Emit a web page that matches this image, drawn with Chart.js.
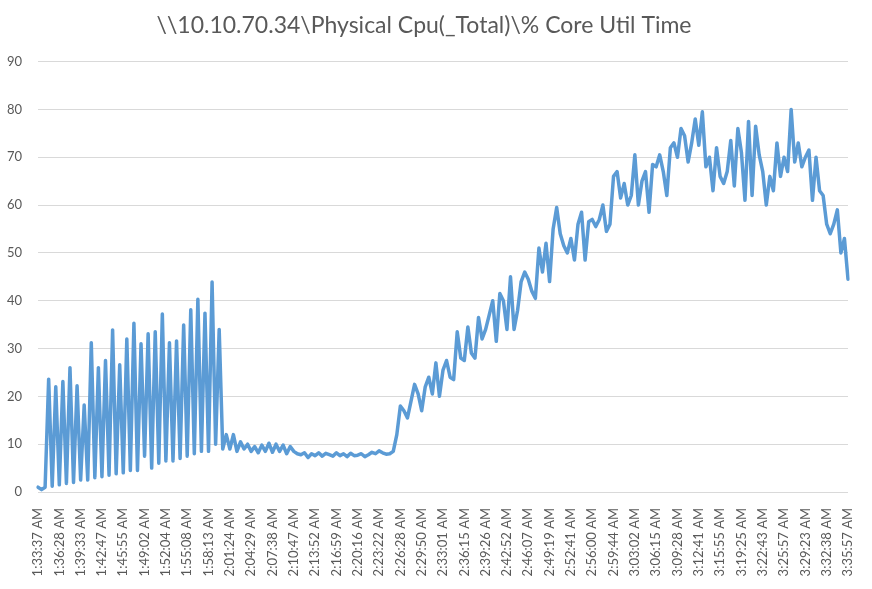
<!DOCTYPE html>
<html><head><meta charset="utf-8">
<script src="https://cdn.jsdelivr.net/npm/chart.js@4"></script>
<style>html,body{margin:0;padding:0;background:#fff;} canvas{display:block}</style>
</head><body>
<canvas id="c" width="872" height="589"></canvas>
<script>
const chartTitle = "\\\\10.10.70.34\\Physical Cpu(_Total)\\% Core Util Time";
const tickLabels = [
  "1:33:37 AM","1:36:28 AM","1:39:33 AM","1:42:47 AM","1:45:55 AM","1:49:02 AM","1:52:04 AM","1:55:08 AM",
  "1:58:13 AM","2:01:24 AM","2:04:29 AM","2:07:38 AM","2:10:47 AM","2:13:52 AM","2:16:59 AM","2:20:16 AM",
  "2:23:22 AM","2:26:28 AM","2:29:50 AM","2:33:01 AM","2:36:15 AM","2:39:26 AM","2:42:52 AM","2:46:07 AM",
  "2:49:19 AM","2:52:41 AM","2:56:00 AM","2:59:44 AM","3:03:02 AM","3:06:15 AM","3:09:28 AM","3:12:41 AM",
  "3:15:55 AM","3:19:25 AM","3:22:43 AM","3:25:57 AM","3:29:23 AM","3:32:38 AM","3:35:57 AM"
];
const pointsPerTick = 6;
const cpuValues = [
  1.0, 0.5, 1.0, 23.6, 1.2, 22.0,
  1.5, 23.1, 1.8, 26.0, 2.0, 22.2,
  2.5, 18.2, 2.5, 31.2, 3.0, 26.0,
  3.2, 27.5, 3.5, 33.9, 3.8, 26.6,
  4.0, 32.0, 4.5, 35.3, 4.5, 31.0,
  7.5, 33.1, 5.0, 33.5, 6.0, 37.2,
  6.5, 31.2, 6.5, 31.6, 7.0, 34.9,
  7.5, 38.1, 8.0, 40.3, 8.5, 37.4,
  8.5, 43.9, 10.0, 34.0, 9.0, 12.0,
  9.0, 12.0, 8.5, 10.5, 9.0, 10.0,
  8.5, 9.5, 8.2, 9.8, 8.5, 10.2,
  8.3, 10.0, 8.5, 9.8, 8.0, 9.5,
  8.5, 8.0, 7.8, 8.2, 7.2, 8.0,
  7.6, 8.2, 7.5, 8.1, 7.8, 7.5,
  8.2, 7.6, 8.0, 7.4, 8.1, 7.6,
  7.7, 8.0, 7.4, 7.8, 8.3, 8.0,
  8.6, 8.2, 7.9, 8.0, 8.5, 12.0,
  18.0, 17.0, 15.5, 19.0, 22.5, 20.5,
  17.0, 22.0, 24.0, 20.5, 27.0, 20.0,
  25.5, 27.5, 24.0, 23.5, 33.5, 28.0,
  27.5, 34.5, 29.0, 28.0, 36.5, 32.0,
  34.0, 37.0, 40.0, 31.5, 41.5, 40.0,
  34.0, 45.0, 34.0, 38.0, 44.0, 46.0,
  44.5, 42.0, 40.5, 51.0, 46.0, 52.0,
  44.0, 55.0, 59.5, 54.0, 51.5, 50.0,
  53.0, 48.5, 56.0, 58.5, 48.5, 56.5,
  57.0, 55.5, 57.0, 60.0, 54.5, 56.0,
  66.0, 67.0, 61.5, 64.5, 60.0, 62.0,
  70.5, 60.0, 65.0, 67.0, 58.5, 68.5,
  68.0, 70.5, 67.0, 62.0, 72.0, 73.0,
  70.0, 76.0, 74.5, 69.0, 73.0, 78.0,
  72.5, 79.5, 68.0, 70.0, 63.0, 72.0,
  66.0, 64.5, 67.0, 73.5, 64.0, 76.0,
  71.0, 61.0, 77.5, 62.0, 76.5, 70.5,
  67.0, 60.0, 66.0, 63.0, 73.0, 66.0,
  70.0, 67.0, 80.0, 69.0, 73.0, 68.0,
  70.0, 71.5, 61.0, 70.0, 63.0, 62.0,
  56.0, 54.0, 56.0, 59.0, 50.0, 53.0,
  44.5
];
const categories = cpuValues.map((v, i) => i % pointsPerTick === 0 ? tickLabels[i / pointsPerTick] : '');

new Chart(document.getElementById('c'), {
  type: 'line',
  data: {
    labels: categories,
    datasets: [{
      data: cpuValues,
      borderColor: '#5B9BD5',
      borderWidth: 3.5,
      pointRadius: 0,
      tension: 0,
      borderJoinStyle: 'round',
      borderCapStyle: 'round',
      fill: false
    }]
  },
  options: {
    responsive: false,
    animation: false,
    devicePixelRatio: 1,
    layout: { padding: { left: 0, right: 24, top: 0, bottom: 0 } },
    plugins: {
      legend: { display: false },
      tooltip: { enabled: false },
      title: {
        display: true,
        text: chartTitle,
        color: '#595959',
        font: { family: 'Lato', size: 23, weight: 'normal' },
        padding: { top: 12, bottom: 22 }
      }
    },
    scales: {
      x: {
        type: 'category',
        grid: { display: false },
        border: { display: false },
        ticks: {
          autoSkip: false,
          minRotation: 90,
          maxRotation: 90,
          color: '#595959',
          font: { family: 'Lato', size: 13 },
          padding: 8,
          callback: (v, i) => categories[i]
        },
        afterFit: s => { s.height = 97; }
      },
      y: {
        min: 0,
        max: 90,
        ticks: {
          stepSize: 10,
          color: '#595959',
          font: { family: 'Lato', size: 13 },
          padding: 16
        },
        grid: { color: '#d9d9d9', drawTicks: false, lineWidth: 1 },
        border: { display: false },
        afterFit: s => { s.width = 38; }
      }
    }
  }
});
</script>
</body></html>
